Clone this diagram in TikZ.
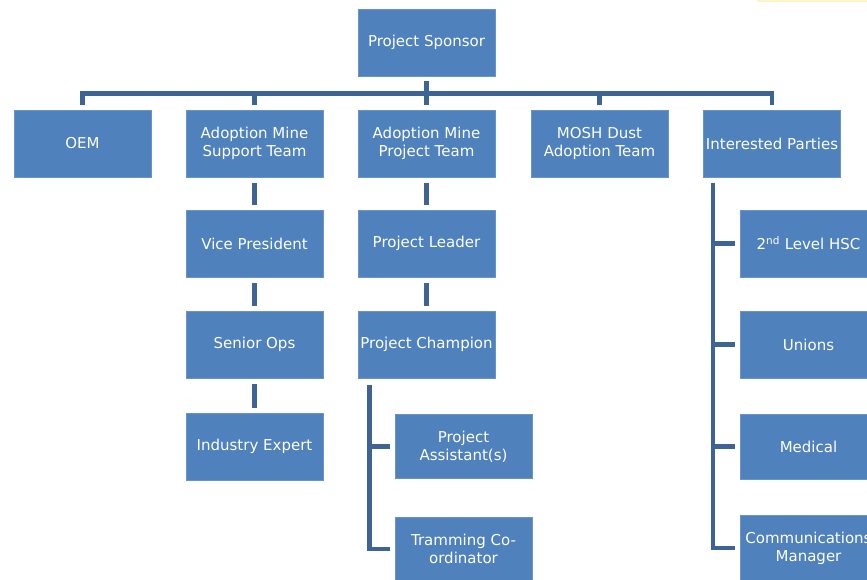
\documentclass[tikz,border=0pt]{standalone}
\usepackage{fontspec}
\setmainfont{DejaVu Sans}
\usetikzlibrary{positioning}
\definecolor{boxblue}{HTML}{4F81BD}
\definecolor{linkblue}{HTML}{3E6496}
\definecolor{glow}{HTML}{FFF4C8}
\tikzset{
  unit/.style={rectangle, fill=boxblue, draw=boxblue!85!white, line width=0.6pt,
    minimum width=137pt, minimum height=67pt, inner sep=0pt,
    text=white, align=center, font=\fontsize{15}{18}\selectfont},
  link/.style={draw=linkblue, line width=4.5pt, line join=miter}
}
\begin{document}
\begin{tikzpicture}[x=1pt, y=-1pt]
\useasboundingbox (0,0) rectangle (867,580);
\fill[white] (0,0) rectangle (867,580);
\clip (0,0) rectangle (867,580);
\fill[glow] (757,0) rectangle (867,2);

% top level
\node[unit] (sponsor) at (426.5,42.5) {Project Sponsor};

% first row
\node[unit] (oem)  at (82.5,143.5)  {OEM};
\node[unit] (amst) at (254.5,143.5) {Adoption Mine\\Support Team};
\node[unit] (ampt) at (426.5,143.5) {Adoption Mine\\Project Team};
\node[unit] (mosh) at (599.5,143.5) {MOSH Dust\\Adoption Team};
\node[unit] (ip)   at (772,143.5)   {Interested Parties};

% support team chain
\node[unit] (vp)  at (254.5,243.5) {Vice President};
\node[unit] (ops) at (254.5,344.5) {Senior Ops};
\node[unit] (ie)  at (254.5,446.5) {Industry Expert};

% project team chain
\node[unit] (pl) at (426.5,243.5) {Project Leader};
\node[unit] (pc) at (426.5,344.5) {Project Champion};
\node[unit, minimum height=64pt] (pa) at (463.5,446.5) {Project\\Assistant(s)};
\node[unit, minimum height=64pt] (tc) at (463.5,549) {Tramming Co-\\ordinator};

% interested parties
\node[unit] (hsc)   at (808.5,243.5) {2\textsuperscript{nd} Level HSC};
\node[unit] (union) at (808.5,344.5) {Unions};
\node[unit, minimum height=65pt] (med) at (808.5,446.5) {Medical};
\node[unit, minimum height=65pt] (comm) at (808.5,548) {Communications\\Manager};

% bus under the sponsor
\draw[link] ([yshift=5pt]oem.north) |- ([yshift=16pt]ip.north) -- ([yshift=5pt]ip.north);
\foreach \n in {amst,ampt,mosh}
  \draw[link] ([yshift=16pt]\n.north) -- ([yshift=5pt]\n.north);
\draw[link] ([yshift=-5pt]sponsor.south) -- ([yshift=7pt]ampt.north);

% vertical chains
\draw[link] ([yshift=-6pt]amst.south) -- ([yshift=5pt]vp.north);
\draw[link] ([yshift=-6pt]vp.south) -- ([yshift=5pt]ops.north);
\draw[link] ([yshift=-6pt]ops.south) -- ([yshift=5pt]ie.north);
\draw[link] ([yshift=-6pt]ampt.south) -- ([yshift=5pt]pl.north);
\draw[link] ([yshift=-6pt]pl.south) -- ([yshift=5pt]pc.north);

% elbow branches under Project Champion
\coordinate (pcx) at ([xshift=12pt,yshift=-7pt]pc.south west);
\draw[link] (pcx) |- ([xshift=-5pt]tc.west);
\draw[link] (pcx |- pa.west) -- ([xshift=-5pt]pa.west);

% elbow branches under Interested Parties
\coordinate (ipx) at ([xshift=10pt,yshift=-6pt]ip.south west);
\draw[link] (ipx) |- ([xshift=-5pt]comm.west);
\foreach \n in {hsc,union,med}
  \draw[link] (ipx |- \n.west) -- ([xshift=-5pt]\n.west);
\end{tikzpicture}
\end{document}
